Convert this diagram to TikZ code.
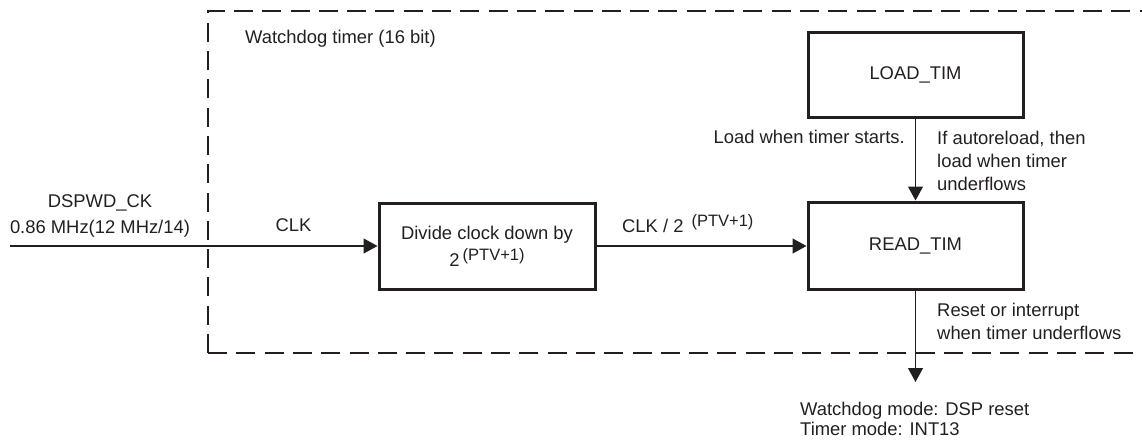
\documentclass[tikz,border=0pt]{standalone}
\usepackage{fontspec}
\setmainfont{Liberation Sans}
\usetikzlibrary{arrows.meta}
\definecolor{ink}{HTML}{231F20}
\newcommand\ptvsup{\raisebox{6pt}{\fontsize{16.5}{16.5}\selectfont (PTV+1)}}
\begin{document}
\begin{tikzpicture}[x=1pt,y=-1pt,
  txt/.style={inner sep=0pt, text=ink, font=\fontsize{18.4}{23}\selectfont},
  blk/.style={draw=ink, text=ink, line width=3pt, inner sep=0pt, font=\fontsize{18.4}{23}\selectfont, align=center},
  conn/.style={draw=ink, line width=1.3pt, -{Triangle[length=14pt,width=15pt]}},
  frame/.style={draw=ink, line width=2.6pt, dash pattern=on 19pt off 9.3pt}
]
\useasboundingbox (0,0) rectangle (1142,440);
\draw[frame] (208,353) -- (208,11) -- (1160,11);
\draw[frame] (208,353) -- (1160,353);

\node[blk, minimum width=216pt, minimum height=86pt] (div) at (487,246) {Divide clock down by\\[4pt]2\,\ptvsup};
\node[blk, minimum width=215pt, minimum height=85pt] (load) at (915.5,74.5) {LOAD\_TIM};
\node[blk, minimum width=215pt, minimum height=87pt] (read) at (915.5,245.5) {READ\_TIM};

\node[txt, anchor=base west] (wdt) at (245,43) {Watchdog timer (16 bit)};
\node[txt, anchor=base, align=center, font=\fontsize{18.4}{26}\selectfont] (dsp) at (100,233) {DSPWD\_CK\\0.86 MHz(12 MHz/14)};
\node[txt, anchor=base] (clk) at (293.5,231) {CLK};
\node[txt, anchor=base west] (clkdiv) at (622,232) {CLK / 2\hspace{8pt}\ptvsup};
\node[txt, anchor=base east] (lwts) at (905,143) {Load when timer starts.};
\node[txt, anchor=base west, align=left] (auto) at (937,190) {If autoreload, then\\load when timer\\underflows};
\node[txt, anchor=base west, align=left] (rst) at (937,339) {Reset or interrupt\\when timer underflows};
\node[txt, anchor=base west, align=left, font=\fontsize{18.4}{20}\selectfont] (mode) at (800,435) {Watchdog mode: DSP reset\\Timer mode: INT13};

\coordinate (in) at (10,246);
\coordinate (out) at (915.5,382);
\draw[conn] (in) -- (div.west);
\draw[conn] (div.east) -- (div.east -| read.west);
\draw[conn] (load.south) -- (read.north);
\draw[conn] (read.south) -- (out);
\end{tikzpicture}
\end{document}
